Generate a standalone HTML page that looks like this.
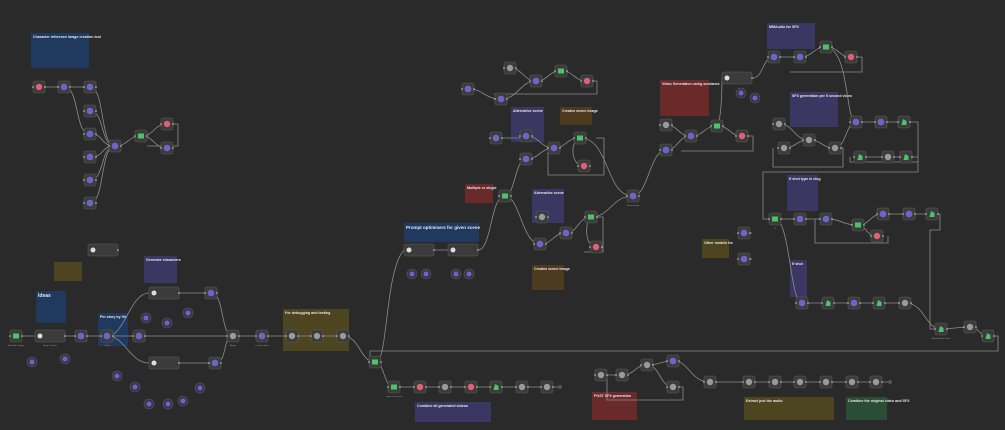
<!DOCTYPE html>
<html><head><meta charset="utf-8"><style>
html,body{margin:0;padding:0;background:#2a2a2a;}
svg{display:block;font-family:"Liberation Sans",sans-serif;}
.e{fill:none;stroke:#8c8c8c;stroke-width:0.8;}
.t{fill:#e8e8e8;font-size:3.6px;font-weight:bold;}
.s{fill:#bbb;font-size:2.4px;}
.l{fill:#999;font-size:2.2px;text-anchor:middle;}
</style></head><body>
<svg width="1005" height="430" viewBox="0 0 1005 430" xmlns="http://www.w3.org/2000/svg">
<defs>
<g id="b"><rect x="-6" y="-6" width="12" height="12" rx="2" fill="#3b3b3b" stroke="#5c5c5c" stroke-width="0.6"/><circle cx="-6" cy="0" r="0.8" fill="#ccc"/><circle cx="6" cy="0" r="0.8" fill="#ccc"/></g>
<g id="p"><use href="#b"/><circle r="3.4" fill="#6e63c9"/></g>
<g id="g"><use href="#b"/><rect x="-3" y="-2.5" width="6" height="5" fill="#4cc46a"/></g>
<g id="k"><use href="#b"/><circle r="3.2" fill="#e0607a"/></g>
<g id="q"><use href="#b"/><circle r="3.2" fill="#9a9a9a"/></g>
<g id="v"><use href="#b"/><path d="M-2.5 3 L-1 -3 L2.5 -1 L2.5 3Z" fill="#4cc46a"/></g>
<g id="w"><rect x="-15" y="-6" width="30" height="12" rx="2" fill="#3b3b3b" stroke="#5c5c5c" stroke-width="0.6"/><circle cx="-10" r="2.5" fill="#ddd"/><circle cx="15" r="0.8" fill="#ccc"/></g>
<g id="c"><circle r="5" fill="#363648" stroke="#5a5a6a" stroke-width="0.6"/><circle r="2.5" fill="#6e63c9"/></g>
</defs>
<rect width="1005" height="430" fill="#2a2a2a"/>

<!-- notes -->
<rect x="31" y="33" width="58" height="35" fill="#1f3a5e"/><text x="33" y="38" class="t">Character reference image creation tool</text>
<rect x="36" y="291" width="30" height="32" fill="#1f3a5e"/><text x="38" y="297" class="t" style="font-size:5px">Ideas</text>
<rect x="98" y="313" width="30" height="33" fill="#1f3a5e"/><text x="100" y="318" class="t">Pin story by file</text>
<rect x="54" y="262" width="28" height="19" fill="#4d4420"/>
<rect x="144" y="256" width="33" height="27" fill="#3b3763"/><text x="146" y="261" class="t">Generate characters</text>
<rect x="283" y="309" width="66" height="42" fill="#4d4420"/><text x="285" y="314" class="t">For debugging and testing</text>
<rect x="404" y="223" width="75" height="19" fill="#1f3a5e"/><text x="406" y="229" class="t" style="font-size:4.5px">Prompt optimisers for given scene</text>
<rect x="465" y="184" width="28" height="19" fill="#6b2a2a"/><text x="467" y="189" class="t">Multiple or single</text>
<rect x="511" y="107" width="33" height="35" fill="#3b3763"/><text x="513" y="112" class="t">Alternative scene</text>
<rect x="532" y="189" width="32" height="34" fill="#3b3763"/><text x="534" y="194" class="t">Alternative scene</text>
<rect x="560" y="107" width="32" height="18" fill="#4d3a1f"/><text x="562" y="112" class="t">Creates scene image</text>
<rect x="532" y="265" width="32" height="25" fill="#4d3a1f"/><text x="534" y="270" class="t">Creates scene image</text>
<rect x="660" y="80" width="49" height="36" fill="#6b2a2a"/><text x="662" y="85" class="t">Video Generation using seedance</text>
<rect x="767" y="23" width="48" height="26" fill="#3b3763"/><text x="769" y="28" class="t">MMAudio for SFX</text>
<rect x="790" y="92" width="48" height="35" fill="#3b3763"/><text x="792" y="97" class="t">SFX generation per 5 second video</text>
<rect x="787" y="175" width="31" height="36" fill="#3b3763"/><text x="789" y="180" class="t">If shot type is vlog</text>
<rect x="702" y="239" width="27" height="19" fill="#4d4420"/><text x="704" y="244" class="t">Other models for</text>
<rect x="790" y="260" width="17" height="37" fill="#3b3763"/><text x="792" y="265" class="t">If shot</text>
<rect x="415" y="402" width="76" height="20" fill="#3b3763"/><text x="417" y="407" class="t">Combine all generated videos</text>
<rect x="592" y="392" width="45" height="28" fill="#6b2a2a"/><text x="594" y="397" class="t">POST SFX generation</text>
<rect x="744" y="397" width="90" height="23" fill="#4d4420"/><text x="746" y="402" class="t">Extract just the audio</text>
<rect x="846" y="397" width="41" height="23" fill="#2b4d35"/><text x="848" y="402" class="t">Combine the original video and SFX</text>

<!-- edges -->
<g class="e">
<path d="M39 87H64M64 87H90M64 87C80 87 74 134 90 134"/>
<path d="M90 87C105 87 100 146 115 146M90 111C105 111 100 146 115 146M90 134C105 134 100 146 115 146M90 157C105 157 100 146 115 146M90 180C105 180 100 146 115 146M90 203C105 203 100 146 115 146"/>
<path d="M115 146C128 146 128 136 141 136M141 136C154 136 154 124 167 124M141 136C154 136 154 148 167 148M167 124H178V146H147"/>
<path d="M16 336H35M65 336H81M81 336H107M107 336C125 336 130 293 149 293M107 336C125 336 130 363 149 363M107 336L233 336"/>
<path d="M179 293H211M179 363H215M211 293C225 293 220 336 233 336M215 363C228 363 222 336 233 336"/>
<path d="M233 336H262H292H317H343M343 336C360 336 360 362 375 362"/>
<path d="M375 362C385 362 383 387 394 387M376 362C388 362 385 270 404 250"/>
<path d="M394 387H560"/>
<path d="M434 250H448M478 250C492 250 490 196 505 196M505 196C515 196 515 159 526 159M505 196C520 196 522 244 540 244"/>
<path d="M496 138H520M526 136C540 136 540 148 554 148M526 159C540 159 540 148 554 148M554 148C566 148 566 138 580 138M580 138C610 138 605 196 633 196M580 138C570 140 570 166 584 166M596 138H604V175H548V152"/>
<path d="M540 244C553 244 553 233 566 233M566 233C578 233 578 217 591 217M591 217C610 217 612 196 633 196M591 217C585 220 584 247 596 247M597 217H603V252H584"/>
<path d="M468 89C484 89 484 99 501 99M501 99C518 99 520 81 536 81M510 68C522 68 524 81 536 81M536 81C548 81 548 71 561 71M561 71C574 71 574 81 587 81M593 81H597V94H494"/>
<path d="M633 196C648 196 650 150 666 150M666 125C678 125 678 136 691 136M666 150C678 150 678 136 691 136M691 136C704 136 704 126 717 126M717 126C730 126 730 136 742 136M748 136H753V151H681M717 126C722 120 722 78 722 78"/>
<path d="M752 78C764 78 762 57 774 57M774 57H800M800 57C813 57 813 47 826 47M826 47C839 47 839 57 851 57M857 57H862V72H790"/>
<path d="M826 47C850 50 845 122 856 122M779 124C794 124 794 140 809 140M784 148C796 148 796 140 809 140M809 140C822 140 822 148 835 148M835 148C846 148 846 122 856 122M841 148H843V167H773V148"/>
<path d="M856 122H881H904M910 122H918V162H850V157M860 157H888M888 157H906M912 157H918V172H763V219H775"/>
<path d="M775 219H800H826M826 219C842 219 842 225 858 225M858 225C870 225 870 214 883 214M883 214H909H932M858 225C866 225 866 236 877 236M815 219V243H888V236"/>
<path d="M744 233L752 233M744 259L752 259"/>
<path d="M775 219C790 219 790 303 802 303M802 303H828H854H879H905M905 303C925 303 925 329 941 329M932 214H940V230H930V329H941M941 329C955 329 955 327 970 327M970 327C980 327 978 336 988 336M994 336H998V351H370V362"/>
<path d="M601 375H622M622 375C635 375 635 365 647 365M647 365C660 365 660 361 673 361M647 365C660 365 660 387 673 387M679 387H683V400H607V375M673 361C690 361 690 382 710 382M710 382H890"/>
</g>

<!-- nodes -->
<use href="#k" x="39" y="87"/><use href="#p" x="64" y="87"/>
<use href="#p" x="90" y="87"/><use href="#p" x="90" y="111"/><use href="#p" x="90" y="134"/><use href="#p" x="90" y="157"/><use href="#p" x="90" y="180"/><use href="#p" x="90" y="203"/>
<use href="#p" x="115" y="146"/><use href="#g" x="141" y="136"/><use href="#k" x="167" y="124"/><use href="#p" x="167" y="148"/>
<use href="#w" x="103" y="250"/>
<use href="#g" x="16" y="336"/><use href="#w" x="50" y="336"/><use href="#p" x="81" y="336"/><use href="#p" x="107" y="336"/><use href="#p" x="139" y="336"/>
<use href="#w" x="164" y="293"/><use href="#p" x="211" y="293"/><use href="#w" x="164" y="363"/><use href="#p" x="215" y="363"/>
<use href="#q" x="233" y="336"/><use href="#p" x="262" y="336"/><use href="#q" x="292" y="336"/><use href="#q" x="317" y="336"/><use href="#q" x="343" y="336"/><use href="#g" x="375" y="362"/>
<use href="#c" x="32" y="362"/><use href="#c" x="65" y="359"/><use href="#c" x="146" y="318"/><use href="#c" x="167" y="323"/><use href="#c" x="188" y="313"/><use href="#c" x="117" y="376"/><use href="#c" x="135" y="387"/><use href="#c" x="149" y="404"/><use href="#c" x="168" y="404"/><use href="#c" x="183" y="401"/><use href="#c" x="200" y="388"/>
<use href="#w" x="419" y="250"/><use href="#w" x="463" y="250"/>
<use href="#c" x="412" y="274"/><use href="#c" x="426" y="274"/><use href="#c" x="456" y="274"/><use href="#c" x="469" y="274"/>
<use href="#g" x="394" y="387"/><use href="#k" x="420" y="387"/><use href="#q" x="445" y="387"/><use href="#k" x="471" y="387"/><use href="#v" x="496" y="387"/><use href="#q" x="522" y="387"/><use href="#q" x="547" y="387"/>
<use href="#q" x="510" y="68"/><use href="#p" x="536" y="81"/><use href="#g" x="561" y="71"/><use href="#k" x="587" y="81"/><use href="#p" x="468" y="89"/><use href="#p" x="501" y="99"/>
<use href="#p" x="496" y="138"/><use href="#p" x="526" y="136"/><use href="#p" x="526" y="159"/><use href="#p" x="554" y="148"/><use href="#g" x="580" y="138"/><use href="#k" x="584" y="166"/>
<use href="#g" x="505" y="196"/><use href="#q" x="542" y="217"/><use href="#p" x="540" y="244"/><use href="#p" x="566" y="233"/><use href="#g" x="591" y="217"/><use href="#k" x="596" y="247"/>
<use href="#p" x="633" y="196"/>
<use href="#q" x="666" y="125"/><use href="#p" x="666" y="150"/><use href="#p" x="691" y="136"/><use href="#g" x="717" y="126"/><use href="#k" x="742" y="136"/>
<use href="#w" x="737" y="78"/><use href="#c" x="741" y="93"/><use href="#c" x="755" y="98"/>
<use href="#p" x="774" y="57"/><use href="#p" x="800" y="57"/><use href="#g" x="826" y="47"/><use href="#k" x="851" y="57"/>
<use href="#q" x="779" y="124"/><use href="#q" x="784" y="148"/><use href="#q" x="809" y="140"/><use href="#q" x="835" y="148"/>
<use href="#p" x="856" y="122"/><use href="#p" x="881" y="122"/><use href="#v" x="904" y="122"/><use href="#v" x="860" y="157"/><use href="#q" x="888" y="157"/><use href="#v" x="906" y="157"/>
<use href="#g" x="775" y="219"/><use href="#p" x="800" y="219"/><use href="#p" x="826" y="219"/><use href="#g" x="858" y="225"/><use href="#p" x="883" y="214"/><use href="#p" x="909" y="214"/><use href="#v" x="932" y="214"/><use href="#k" x="877" y="236"/>
<use href="#p" x="744" y="233"/><use href="#p" x="744" y="259"/>
<use href="#p" x="802" y="303"/><use href="#v" x="828" y="303"/><use href="#p" x="854" y="303"/><use href="#v" x="879" y="303"/><use href="#q" x="905" y="303"/>
<use href="#v" x="941" y="329"/><use href="#q" x="970" y="327"/><use href="#v" x="988" y="336"/>
<use href="#q" x="601" y="375"/><use href="#q" x="622" y="375"/><use href="#q" x="647" y="365"/><use href="#p" x="673" y="361"/><use href="#q" x="673" y="387"/>
<use href="#q" x="710" y="382"/><use href="#q" x="749" y="382"/><use href="#q" x="775" y="382"/><use href="#q" x="800" y="382"/><use href="#q" x="826" y="382"/><use href="#q" x="852" y="382"/><use href="#q" x="876" y="382"/>
<circle cx="560" cy="387" r="2" fill="#555"/><circle cx="890" cy="382" r="2" fill="#555"/>

<g class="l">
<text x="16" y="346">Schedule Trigger</text><text x="50" y="346">Story Creation</text><text x="107" y="346">Loop</text><text x="233" y="346">Merge</text><text x="262" y="346">Convert Input</text>
<text x="394" y="397">Loop Over Items</text><text x="633" y="206">Scene image</text><text x="775" y="229">If</text><text x="941" y="339">Merge Audio Video</text>
</g>
</svg>
</body></html>
